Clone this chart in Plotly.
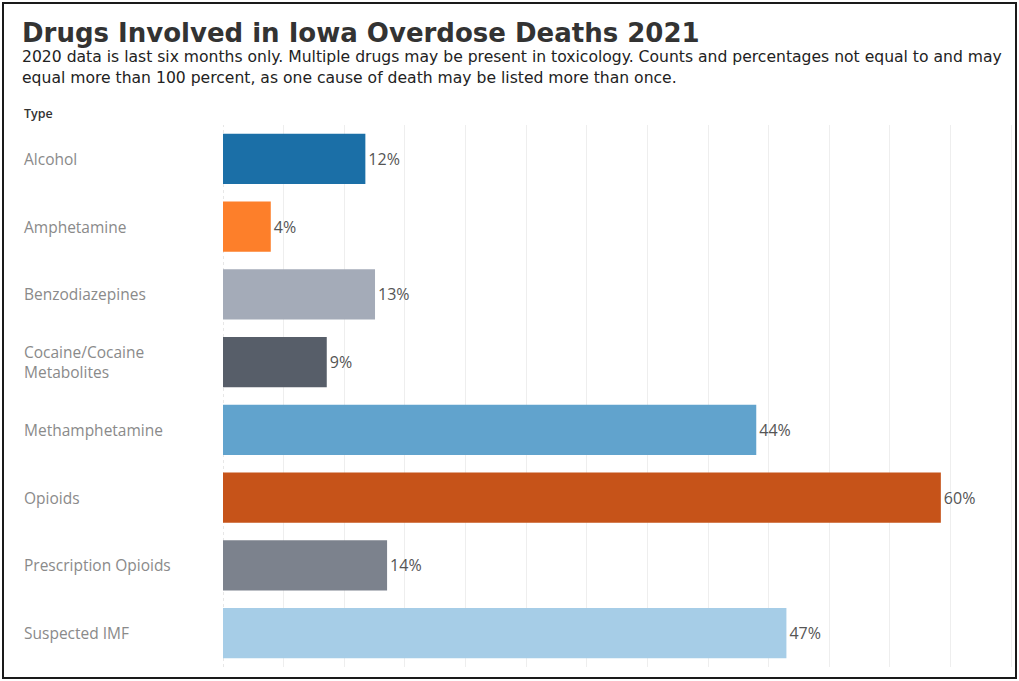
import plotly.graph_objects as go

# ---- data ----
categories = ["Alcohol", "Amphetamine", "Benzodiazepines", "Cocaine/Cocaine<br>Metabolites",
              "Methamphetamine", "Opioids", "Prescription Opioids", "Suspected IMF"]
percent_values = [11.8, 3.96, 12.6, 8.6, 44.2, 59.5, 13.6, 46.7]
bar_colors = ["#1b6fa7", "#fd7f2a", "#a4abb8", "#575e69", "#61a3cd", "#c65319", "#7c828d", "#a6cde7"]

title_text = "Drugs Involved in Iowa Overdose Deaths 2021"
subtitle_lines = [
    "2020 data is last six months only. Multiple drugs may be present in toxicology. Counts and percentages not equal to and may",
    "equal more than 100 percent, as one cause of death may be listed more than once.",
]
header_text = "Type"

W, H = 1019, 681
L, R, T, B = 223, W - 1013, 125, H - 667
PW, PH = W - L - R, H - T - B


def px_x(p):
    return (p - L) / PW


def px_y(p):
    return (H - B - p) / PH


ids = list(range(len(categories)))

fig = go.Figure()
fig.add_trace(go.Bar(
    x=percent_values,
    y=ids,
    orientation="h",
    width=0.74,
    marker=dict(color=bar_colors, line=dict(width=0)),
    text=[f"{round(v)}%" for v in percent_values],
    textposition="outside",
    textfont=dict(family="Open Sans", size=16, color="#555555"),
    cliponaxis=False,
    hoverinfo="skip",
))

annotations = []
for i, c in enumerate(categories):
    annotations.append(dict(
        x=px_x(22), xref="paper", y=i, yref="y", text=c, showarrow=False,
        xanchor="left", yanchor="middle", align="left",
        font=dict(family="Open Sans", size=15.5, color="#8a8a8a"),
    ))
annotations.append(dict(
    x=px_x(20), xref="paper", y=px_y(33), yref="paper", text=f"<b>{title_text}</b>",
    showarrow=False, xanchor="left", yanchor="middle",
    font=dict(family="DejaVu Sans", size=26, color="#333333"),
))
for k, line in enumerate(subtitle_lines):
    annotations.append(dict(
        x=px_x(20), xref="paper", y=px_y(57 + 21 * k), yref="paper", text=line,
        showarrow=False, xanchor="left", yanchor="middle",
        font=dict(family="DejaVu Sans", size=15.6, color="#222222"),
    ))
annotations.append(dict(
    x=px_x(22), xref="paper", y=px_y(114), yref="paper", text=header_text,
    showarrow=False, xanchor="left", yanchor="middle",
    font=dict(family="Open Sans", size=12.5, color="#333333", weight=600),
))

shapes = [
    dict(type="line", xref="x", yref="paper", x0=0, x1=0, y0=0, y1=1,
         line=dict(color="#d0d0d0", width=1, dash="dot"), layer="below"),
    dict(type="rect", xref="paper", yref="paper",
         x0=px_x(3), x1=px_x(1016), y0=px_y(678), y1=px_y(3),
         line=dict(color="#1a1a1a", width=2)),
]

fig.update_layout(
    width=W, height=H,
    margin=dict(l=L, r=R, t=T, b=B),
    paper_bgcolor="white", plot_bgcolor="white",
    showlegend=False,
    xaxis=dict(range=[0, 65.48], tick0=0, dtick=5.025, showticklabels=False,
               showgrid=True, gridcolor="#eeeeee", gridwidth=1, zeroline=False,
               showline=False, ticks="", fixedrange=True),
    yaxis=dict(range=[len(categories) - 0.5, -0.5], showticklabels=False, showgrid=False,
               zeroline=False, showline=False, ticks="", fixedrange=True),
    annotations=annotations,
    shapes=shapes,
)

fig.write_html("out.html", config={"displayModeBar": False},
               post_script="document.body.style.margin='0';")
